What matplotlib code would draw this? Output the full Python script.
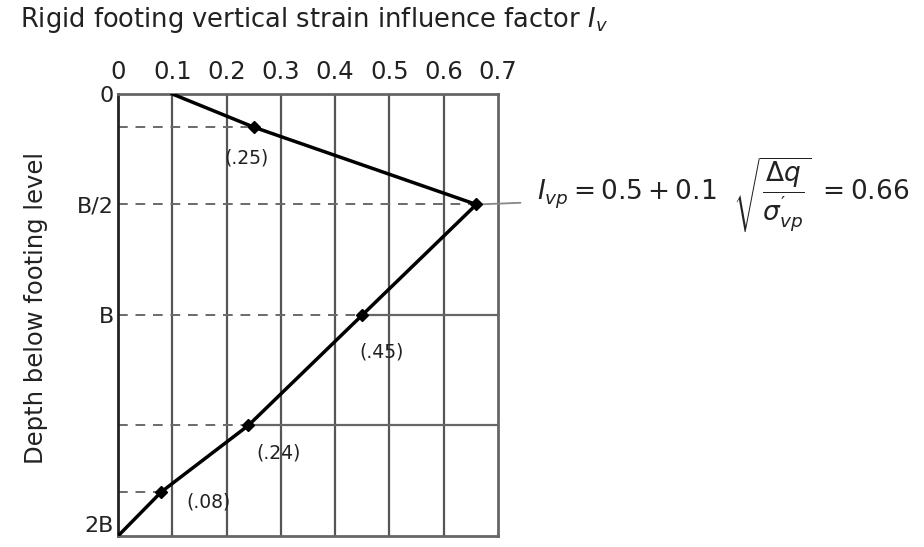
import numpy as np
import matplotlib.pyplot as plt

plt.rcParams['font.family'] = 'DejaVu Sans'
plt.rcParams['mathtext.fontset'] = 'custom'
plt.rcParams['mathtext.rm'] = 'DejaVu Sans'
plt.rcParams['mathtext.it'] = 'DejaVu Sans:italic'

# strain influence profile, depth in units of B
profile_depth = [0.0, 0.15, 0.5, 1.0, 1.5, 1.8, 2.0]
profile_iz = [0.1, 0.25, 0.66, 0.45, 0.24, 0.08, 0.0]

# sublayer midpoints with their Iz values
pt_depth = [0.15, 1.0, 1.5, 1.8]
pt_iz = [0.25, 0.45, 0.24, 0.08]
pt_labels = ['(.25)', '(.45)', '(.24)', '(.08)']
pt_offsets = [(-5, -22), (14, -27), (22, -20), (34, -7)]  # points

peak_depth = 0.5
peak_iz = 0.66

xticks = [0, 0.1, 0.2, 0.3, 0.4, 0.5, 0.6, 0.7]
xticklabels = ['0', '0.1', '0.2', '0.3', '0.4', '0.5', '0.6', '0.7']
yticks = [0, 0.5, 1.0, 2.0]
yticklabels = ['0', 'B/2', 'B', '2B']

fig = plt.figure(figsize=(9.24, 5.47), dpi=100)
ax = fig.add_axes([0.1277, 0.0201, 0.4113, 0.8081])

# vertical grid
for xv in xticks[1:-1]:
    ax.axvline(xv, color='#555555', lw=1.6, zorder=1)

# dashed guides to each point
for d, v in zip(pt_depth, pt_iz):
    ax.plot([0, v], [d, d], color='#6a6a6a', lw=1.4, dashes=(5, 4), zorder=2)
ax.plot([0, peak_iz], [peak_depth, peak_depth], color='#6a6a6a', lw=1.4, dashes=(5, 4), zorder=2)

# horizontal grid right of the points at B and 1.5B
for d, v in zip(pt_depth[1:3], pt_iz[1:3]):
    ax.plot([v, 0.7], [d, d], color='#666666', lw=1.6, zorder=1)

ax.plot(profile_iz, profile_depth, color='black', lw=2.5, zorder=3)
ax.plot(pt_iz + [peak_iz], pt_depth + [peak_depth], 'D', color='black', ms=6, zorder=4)

for d, v, lab, off in zip(pt_depth, pt_iz, pt_labels, pt_offsets):
    ax.annotate(lab, xy=(v, d), xytext=off, textcoords='offset points',
                ha='center', va='center', fontsize=13.5, color='#222222')

ax.annotate(r"$I_{vp} = 0.5 + 0.1\ \ \sqrt{\dfrac{\Delta q}{\sigma^{\prime}_{vp}}}\ = 0.66$",
            xy=(peak_iz, peak_depth), xytext=(0.772, 0.457), textcoords='data',
            ha='left', va='center', fontsize=19, color='#222222',
            annotation_clip=False,
            arrowprops=dict(arrowstyle='-', color='#888888', lw=1.3, shrinkA=10, shrinkB=0))

ax.set_xlim(0, 0.7)
ax.set_ylim(2.0, 0)
ax.xaxis.tick_top()
ax.set_xticks(xticks)
ax.set_xticklabels(xticklabels, fontsize=17.5)
ax.set_yticks(yticks)
ax.set_yticklabels(yticklabels, fontsize=16)
ax.get_yticklabels()[-1].set_va('bottom')
ax.tick_params(axis='x', length=0, pad=7, colors='#222222')
ax.tick_params(axis='y', length=0, pad=3, colors='#222222')
ax.set_ylabel('Depth below footing level', fontsize=17.5, color='#222222')
ax.yaxis.set_label_coords(-0.185, 0.515)

for side in ['top', 'right', 'bottom']:
    ax.spines[side].set_color('#666666')
    ax.spines[side].set_linewidth(2)
ax.spines['left'].set_color('#222222')
ax.spines['left'].set_linewidth(2)

fig.text(0.022, 0.963, r'Rigid footing vertical strain influence factor $I_v$',
         fontsize=18.5, color='#222222', ha='left', va='center')

fig.savefig('out.png', dpi=100)
